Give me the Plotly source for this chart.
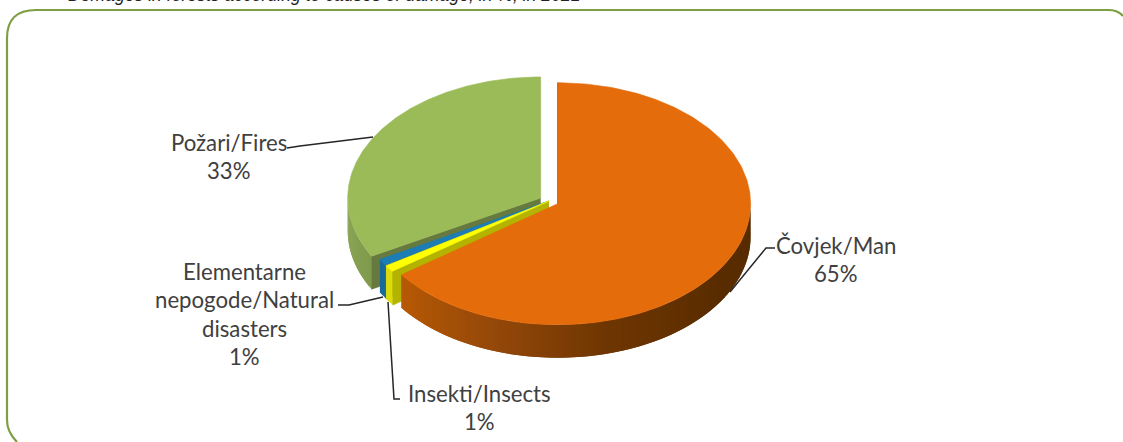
import numpy as np
import plotly.graph_objects as go

# ---- data ----
categories = ["Čovjek/Man", "Insekti/Insects", "Elementarne<br>nepogode/Natural<br>disasters", "Požari/Fires"]
values = [65, 1, 1, 33]
explode = [0.05, 0.0, 0.0, 0.05]
top_colors = ["#E46C0A", "#FFFF00", "#1C7DB4", "#9BBB59"]
cut_colors = ["#8A4506", "#B4B400", "#66793F", "#66793F"]
side_stops = [
    [(90, "#582C00"), (125, "#5A2D00"), (165, "#6E3602"), (200, "#96490A"), (234, "#B85A04")],
    [(0, "#DCDC0A"), (360, "#DCDC0A")],
    [(0, "#176A9A"), (360, "#176A9A")],
    [(241, "#7F9A4C"), (270, "#8FA95A")],
]
label_pos = [(836, 245), (479, 393), (244, 271), (229, 142)]
line_gap = 28.5
leaders = [
    ([775, 766, 730], [248, 248, 292]),
    ([400, 394, 388], [399, 399, 302]),
    ([338, 349, 383], [305, 305, 297]),
    ([287, 300, 373], [148, 146, 137]),
]
title = "Demages in forests according to causes of damage, in %, in 2021"

# ---- projection of the tilted pie ----
CX, CY, A, B, DEPTH = 549, 201, 193, 121, 33


def pt(deg, cx, cy, drop=0.0):
    r = np.radians(deg)
    return cx + A * np.sin(r), cy - B * np.cos(r) + drop


def hexrgb(h):
    return np.array([int(h[i:i + 2], 16) for i in (1, 3, 5)], float)


def stop_color(stops, deg):
    ds = [s[0] for s in stops]
    rgb = np.array([hexrgb(s[1]) for s in stops])
    c = [np.interp(deg, ds, rgb[:, k]) for k in range(3)]
    return "rgb(%d,%d,%d)" % tuple(c)


fig = go.Figure()


def poly(xs, ys, color, lw=0.6):
    fig.add_trace(go.Scatter(x=list(xs), y=list(ys), mode="lines", fill="toself",
                             fillcolor=color, line=dict(color=color, width=lw),
                             hoverinfo="skip", showlegend=False))


starts = np.concatenate([[0], np.cumsum(values)[:-1]]) * 3.6
ends = np.cumsum(values) * 3.6

# back-to-front: fires, disasters, insects, man
for i in [3, 2, 1, 0]:
    a0, a1 = starts[i], ends[i]
    mid = np.radians((a0 + a1) / 2)
    cx = CX + explode[i] * A * np.sin(mid)
    cy = CY - explode[i] * B * np.cos(mid)
    # outer wall (only the part facing the viewer); pieces overlap to avoid seams
    w0, w1 = max(a0, 90), min(a1, 270)
    if w1 > w0:
        n = max(1, int((w1 - w0) / 1.5))
        edges = np.linspace(w0, w1, n + 1)
        for e0, e1 in zip(edges[:-1], edges[1:]):
            arc = np.linspace(e0, min(e1 + 1.5, w1), 5)
            xt, yt = pt(arc, cx, cy)
            xb, yb = pt(arc[::-1], cx, cy, DEPTH)
            poly(np.r_[xt, xb], np.r_[yt, yb], stop_color(side_stops[i], (e0 + e1) / 2), 0)
    # radial cut face at the start angle
    xe, ye = pt(a0, cx, cy)
    poly([cx, xe, xe, cx], [cy, ye, ye + DEPTH, cy + DEPTH], cut_colors[i])
    # top surface
    arc = np.linspace(a0, a1, 240)
    xs, ys = pt(arc, cx, cy)
    poly(np.r_[cx, xs, cx], np.r_[cy, ys, cy], top_colors[i])

# leaders
for lx, ly in leaders:
    fig.add_trace(go.Scatter(x=lx, y=ly, mode="lines", line=dict(color="#262626", width=1.5),
                             hoverinfo="skip", showlegend=False))

# labels
for name, v, (lx, ly) in zip(categories, values, label_pos):
    rows = name.split("<br>") + [f"{v}%"]
    for k, row in enumerate(rows):
        fig.add_annotation(x=lx, y=ly + k * line_gap, text=row, showarrow=False,
                           xanchor="center", yanchor="middle",
                           font=dict(family="Lato", size=22.2, color="#404040"))

fig.add_annotation(x=66, y=7, text=f"<i>{title}</i>", showarrow=False, xanchor="left", yanchor="bottom",
                   font=dict(family="Liberation Sans", size=17.6, color="#222222"))

fig.update_layout(
    width=1123, height=442, margin=dict(l=0, r=0, t=0, b=0),
    paper_bgcolor="white", plot_bgcolor="white",
    xaxis=dict(range=[0, 1123], visible=False, fixedrange=True),
    yaxis=dict(range=[442, 0], visible=False, fixedrange=True),
    shapes=[dict(type="path", xref="x", yref="y",
                 path="M 17,442 Q 7,432 7,420 L 7,38 Q 7,10 36,10 L 1108,10 Q 1118,10 1123,16",
                 line=dict(color="#7F9F45", width=2.2))],
)
fig.write_html("out.html", config={"displayModeBar": False},
               post_script="document.body.style.margin='0';document.body.style.overflow='hidden';")
